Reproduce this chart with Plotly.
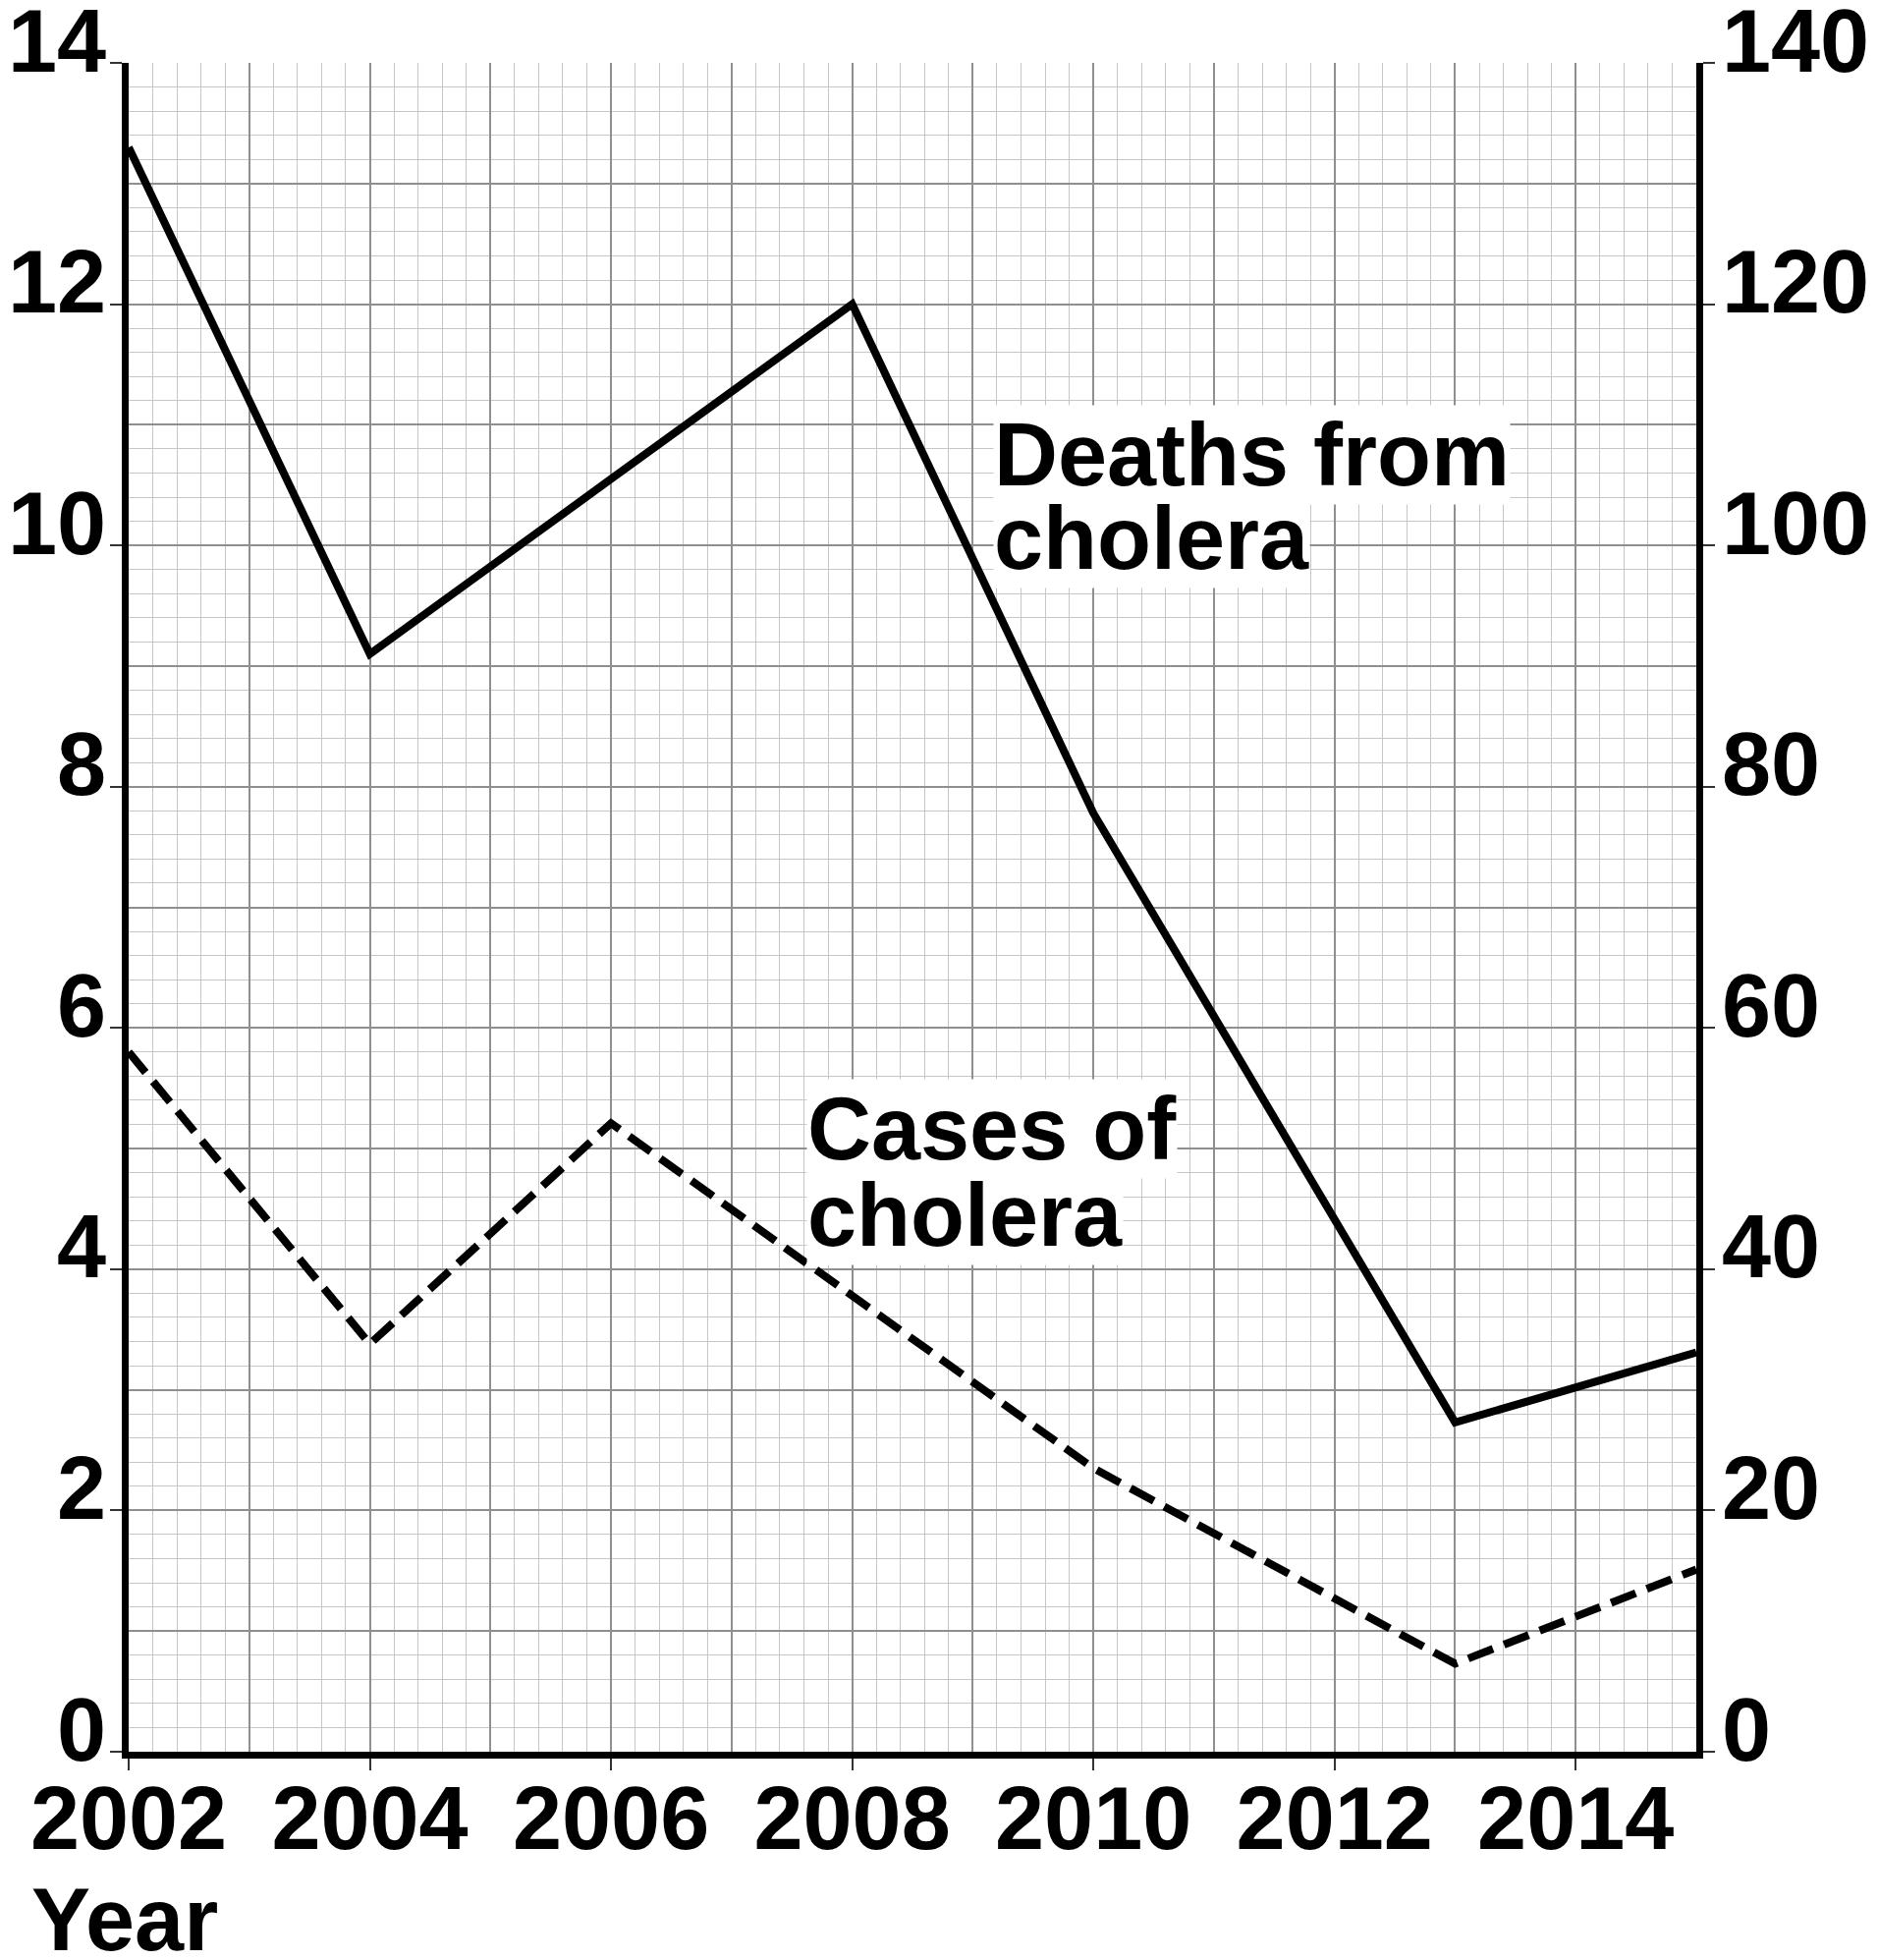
import plotly.graph_objects as go

# ---- data ----
years = [2002, 2004, 2006, 2008, 2010, 2013, 2015]
deaths = [13.3, 9.1, 10.55, 12.0, 7.78, 2.73, 3.31]          # left axis (0-14)
cases = [58.0, 33.8, 52.1, 37.8, 23.5, 7.3, 15.1]            # right axis (0-140)

x_tick_vals = [2002, 2004, 2006, 2008, 2010, 2012, 2014]
left_tick_vals = [0, 2, 4, 6, 8, 10, 12, 14]
right_tick_vals = [0, 20, 40, 60, 80, 100, 120, 140]

label_deaths = ["Deaths from", "cholera"]
label_cases = ["Cases of", "cholera"]
axis_title = "Year"

FONT = "Liberation Sans, Arial, sans-serif"
FS = 90
W, H = 1912, 1995
L, T = 123, 56
PW, PH = 1596, 1719
R = W - L - PW
B = H - T - PH

fig = go.Figure()

# invisible carrier for the grid axes
fig.add_trace(go.Scatter(x=years, y=deaths, xaxis="x", yaxis="y", mode="lines",
                         line=dict(width=0, color="rgba(0,0,0,0)"), hoverinfo="skip",
                         showlegend=False))
fig.add_trace(go.Scatter(x=years, y=deaths, xaxis="x2", yaxis="y3", mode="lines",
                         line=dict(color="black", width=8), showlegend=False,
                         name="Deaths from cholera"))
fig.add_trace(go.Scatter(x=years, y=cases, xaxis="x2", yaxis="y2", mode="lines",
                         line=dict(color="black", width=8, dash="27px,12px"),
                         showlegend=False, name="Cases of cholera"))

major_grid = "#8f8f8f"
minor_grid = "#c6c6c6"
tfont = dict(family=FONT, size=FS, color="black", weight="bold")

fig.update_layout(
    width=W, height=H,
    margin=dict(l=L, r=R, t=T, b=B, pad=0, autoexpand=False),
    paper_bgcolor="white", plot_bgcolor="white",
    font=dict(family=FONT, size=FS, color="black", weight="bold"),
    xaxis=dict(range=[2002, 2015], dtick=1, tick0=2002, showgrid=True,
               gridcolor=major_grid, gridwidth=1.6, showticklabels=False, ticks="",
               zeroline=False, showline=False, automargin=False,
               minor=dict(dtick=0.2, showgrid=True, gridcolor=minor_grid, gridwidth=1.4),
               anchor="y"),
    yaxis=dict(range=[0, 14], dtick=1, tick0=0, showgrid=True,
               gridcolor=major_grid, gridwidth=1.6, showticklabels=False, ticks="",
               zeroline=False, showline=False, automargin=False,
               minor=dict(dtick=0.2, showgrid=True, gridcolor=minor_grid, gridwidth=1.4),
               anchor="x"),
    xaxis2=dict(range=[2002, 2015], overlaying="x", side="bottom", anchor="y3",
                tickmode="array", tickvals=x_tick_vals,
                ticktext=[str(v) for v in x_tick_vals],
                ticks="outside", ticklen=12, tickwidth=2, tickcolor="#333",
                showline=True, linewidth=7, linecolor="black", showgrid=False,
                zeroline=False, tickfont=tfont, automargin=False,
                ticklabeloverflow="allow", ticklabelstandoff=-28),
    yaxis3=dict(range=[0, 14], overlaying="y", side="left", anchor="x2",
                tickmode="array", tickvals=left_tick_vals,
                ticks="outside", ticklen=12, tickwidth=2, tickcolor="#333",
                showline=True, linewidth=7, linecolor="black", showgrid=False,
                zeroline=False, tickfont=tfont, automargin=False,
                ticklabeloverflow="allow",
                ticklabelshift=-23, ticklabelstandoff=-14),
    yaxis2=dict(range=[0, 140], overlaying="y", side="right", anchor="x2",
                tickmode="array", tickvals=right_tick_vals,
                ticks="outside", ticklen=12, tickwidth=2, tickcolor="#333",
                showline=True, linewidth=7, linecolor="black", showgrid=False,
                zeroline=False, tickfont=tfont, automargin=False,
                ticklabeloverflow="allow",
                ticklabelshift=-23, ticklabelstandoff=-11),
)

def label(text, x, y):
    fig.add_annotation(text=f"<b>{text}</b>", x=x, y=y, xref="x2", yref="y3",
                       xanchor="left", yanchor="middle", showarrow=False,
                       bgcolor="white", borderpad=0,
                       font=dict(family=FONT, size=FS, color="black"))

label(label_deaths[0], 2009.17, 10.75)
label(label_deaths[1], 2009.17, 10.06)
label(label_cases[0], 2007.62, 5.16)
label(label_cases[1], 2007.62, 4.45)

fig.add_annotation(text=f"<b>{axis_title}</b>", xref="paper", yref="paper",
                   x=(22 - L) / PW, y=(H - B - 1946) / PH,
                   xanchor="left", yanchor="middle", showarrow=False,
                   font=dict(family=FONT, size=FS, color="black"))

fig.write_html("out.html")
